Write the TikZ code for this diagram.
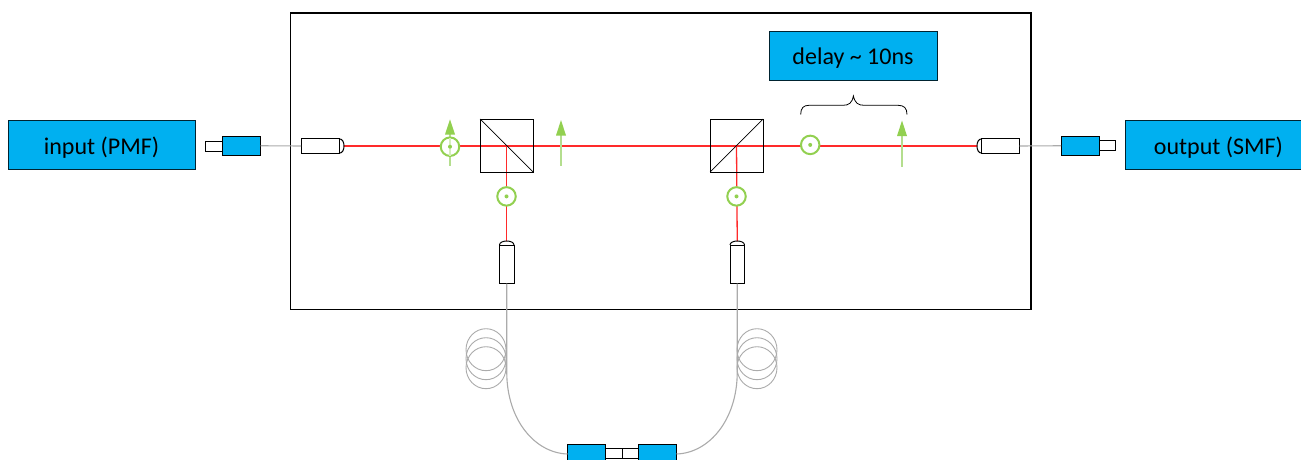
\documentclass[tikz,border=0pt]{standalone}
\usepackage{fontspec}
\setmainfont{Carlito}
\definecolor{bluefill}{HTML}{00B0F0}
\definecolor{polgreen}{HTML}{92D050}
\definecolor{polshaft}{HTML}{B4DE8E}
\definecolor{polfaint}{HTML}{D6EFBE}
\definecolor{beamred}{HTML}{FF2A2A}
\definecolor{fibregrey}{HTML}{ABABAB}
\tikzset{
  x=1pt,y=-1pt,
  every node/.style={inner sep=0pt,outer sep=0pt},
  frame/.style={draw=black,line width=1.1pt},
  labelbox/.style={draw=black!80!bluefill,line width=0.8pt,fill=bluefill},
  boxtext/.style={font=\fontsize{24}{28}\selectfont,text=black},
  connblue/.style={draw=black,line width=1pt,fill=bluefill},
  connwhite/.style={draw=black,line width=1pt,fill=white},
  collim/.style={draw=black,line width=1pt,fill=white},
  domeline/.style={draw=black,line width=1pt},
  cube/.style={draw=black,line width=1pt,minimum width=53pt,minimum height=53pt},
  splitter/.style={draw=black,line width=0.7pt},
  beam/.style={draw=beamred,line width=1.3pt},
  fibre/.style={draw=fibregrey,line width=1.1pt},
  pol/.style={circle,draw=polgreen,line width=2pt,fill=white,minimum size=18.5pt},
  poldot/.style={circle,fill=polgreen,minimum size=4pt},
  shaft/.style={draw=polshaft,line width=1.5pt},
  faintshaft/.style={draw=polfaint,line width=1.2pt},
  head/.style={fill=polgreen},
}
\newcommand{\polarrow}[4]{% x, tip y, base y, bottom y
  \draw[shaft] (#1,#3) -- (#1,#4);
  \fill[head] (#1,#2) -- (#1+5,#3+0.5) -- (#1-5,#3+0.5) -- cycle;
}
\begin{document}
\begin{tikzpicture}
\useasboundingbox (0,0) rectangle (1301,460);
\clip (0,0) rectangle (1301,460);

% main enclosure
\node[frame,minimum width=740.5pt,minimum height=296.5pt] (enclosure) at (660.75,161.25) {};

% labelled boxes
\node[labelbox,minimum width=186.5pt,minimum height=49pt] (input) at (101.75,144.5) {};
\node[boxtext] (inputlabel) at (101.5,147.3) {input (PMF)};
\node[labelbox,minimum width=186.5pt,minimum height=49pt] (output) at (1219,144.5) {};
\node[boxtext] (outputlabel) at (1218.5,147.3) {output (SMF)};
\node[labelbox,minimum width=167.5pt,minimum height=49pt] (delay) at (853.25,55.5) {};
\node[boxtext] (delaylabel) at (853,58.3) {delay \textasciitilde{} 10ns};

% coils
\foreach \cy in {349.7,358.7,367.7}{
  \draw[fibre,line width=0.9pt] (486,\cy) ellipse [x radius=20,y radius=21];
  \draw[fibre,line width=0.9pt] (757,\cy) ellipse [x radius=20,y radius=21];
}

% collimators
\node[collim,minimum width=38pt,minimum height=14.5pt] (colL) at (320,146) {};
\node[collim,minimum width=38pt,minimum height=14.5pt] (colR) at (1000.5,146) {};
\node[collim,minimum width=14.5pt,minimum height=38.5pt] (colA) at (506.75,264.25) {};
\node[collim,minimum width=14.5pt,minimum height=38.5pt] (colB) at (737.25,264.25) {};
\coordinate (tipL) at (344,146);
\coordinate (tipR) at (977,146);
\coordinate (tipA) at (506.75,241);
\coordinate (tipB) at (737.25,241);

% fibre connectors
\node[connwhite,minimum width=17pt,minimum height=10pt] (inW) at (214,146) {};
\node[connblue,minimum width=38pt,minimum height=18.5pt] (inB) at (241.5,145.75) {};
\node[connwhite,minimum width=16.5pt,minimum height=10pt] (outW) at (1107.25,145.75) {};
\node[connblue,minimum width=38pt,minimum height=18.5pt] (outB) at (1080,145.75) {};
\node[connwhite,minimum width=16.5pt,minimum height=10pt] (midW1) at (613.75,453) {};
\node[connwhite,minimum width=16.5pt,minimum height=10pt] (midW2) at (630.25,453) {};
\node[connblue,minimum width=38pt,minimum height=18.5pt] (midB1) at (586.5,454) {};
\node[connblue,minimum width=38pt,minimum height=18.5pt] (midB2) at (657.5,454) {};

% fibres
\draw[fibre] (inB.east) -- (colL.west);
\draw[fibre] (colR.east) -- (outB.west);
\draw[fibre] (colA.south) -- (506.75,372) .. controls (506.75,420) and (535,453) .. (midB1.west);
\draw[fibre] (colB.south) -- (737.25,372) .. controls (737.25,420) and (709,453) .. (midB2.east);

% beams
\coordinate (split1) at (506.75,146);
\coordinate (split2) at (736.5,146);
\draw[beam] (tipL) -- (split1) -- (split2) -- (tipR);
\draw[beam] (split1) -- (tipA);
\draw[beam] (split2) -- (tipB);
\node[cube] (cube1) at (506.5,145.5) {};
\node[cube] (cube2) at (736.5,145.5) {};
\draw[splitter] (cube1.north west) -- (cube1.south east);
\draw[splitter] (cube2.south west) -- (cube2.north east);

% collimator domes
\draw[domeline] (339,138.75) .. controls (342.5,139) and (344,142) .. (tipL) .. controls (344,150) and (342.5,153) .. (339,153.25);
\draw[domeline] (982,138.75) .. controls (978.5,139) and (977,142) .. (tipR) .. controls (977,150) and (978.5,153) .. (982,153.25);
\draw[domeline] (499.5,245) .. controls (499.5,242.5) and (503,241) .. (tipA) .. controls (510.5,241) and (514,242.5) .. (514,245);
\draw[domeline] (730,245) .. controls (730,242.5) and (733.5,241) .. (tipB) .. controls (741,241) and (744.5,242.5) .. (744.5,245);

% polarisation
\polarrow{450}{119.3}{134}{165.7}
\polarrow{561}{120}{135}{166}
\node[pol] (p1) at (450,146.7) {};
\draw[faintshaft] (450,138) -- (450,155.5);
\node[poldot] at (p1) {};
\node[pol] (p2) at (506.5,196.4) {};
\node[poldot] at (p2) {};
\node[pol] (p3) at (736.5,196.4) {};
\node[poldot] at (p3) {};
\node[pol] (p4) at (810.2,144.9) {};
\node[poldot] at (p4) {};
\polarrow{902}{120.5}{135.5}{167}

% brace
\draw[black,line width=0.8pt] (800.7,114.5) .. controls (800.7,108) and (803.5,105.3) .. (809,105.3) -- (843,105.3) .. controls (849,105.3) and (852,103) .. (853.4,96) .. controls (855,103) and (858,105.3) .. (864,105.3) -- (898,105.3) .. controls (904,105.3) and (907,108) .. (907,114.5);
\end{tikzpicture}
\end{document}
